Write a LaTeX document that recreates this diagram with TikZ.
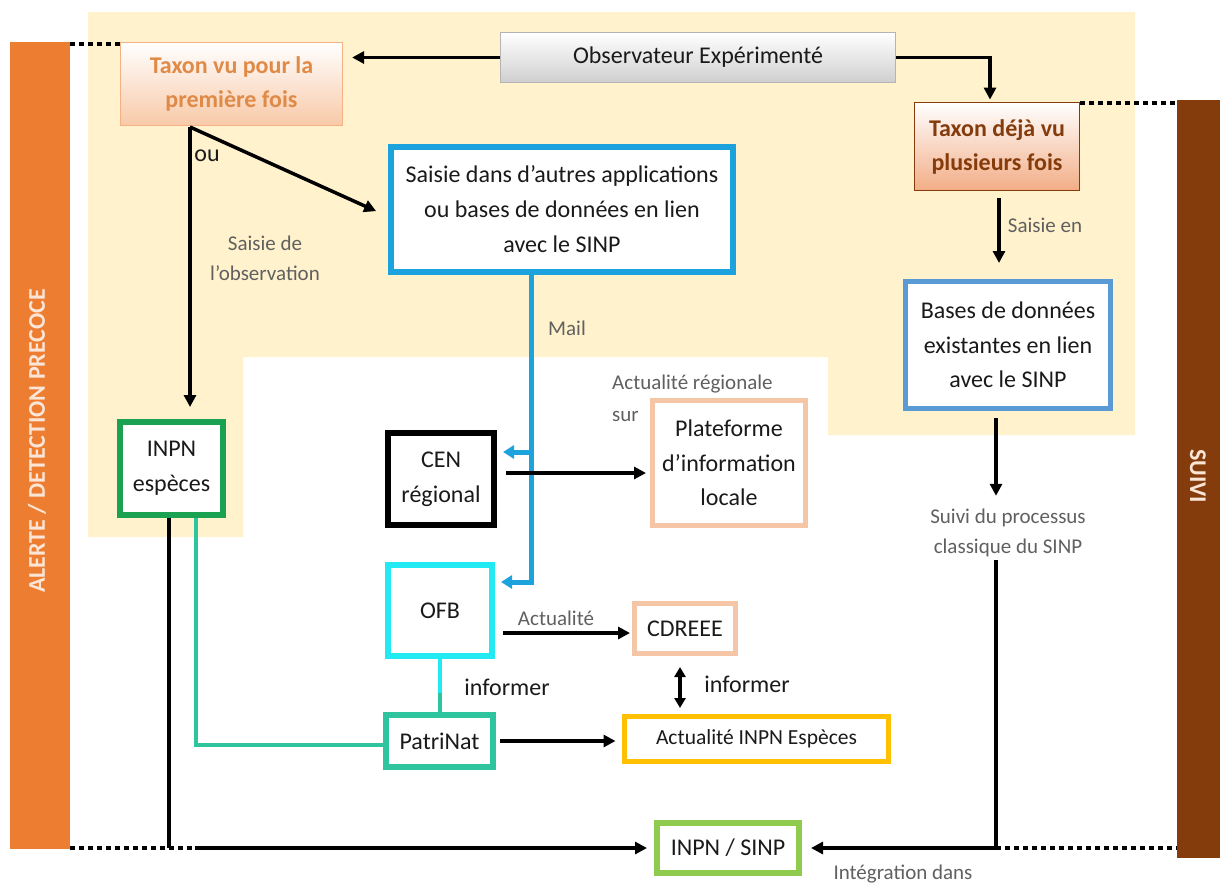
\documentclass[tikz,border=0pt]{standalone}
\usepackage{fontspec}
\setmainfont{Carlito}
\usetikzlibrary{arrows.meta}
\definecolor{beige}{HTML}{FFF2CC}
\definecolor{orangebar}{HTML}{ED7D31}
\definecolor{brownbar}{HTML}{843C0C}
\definecolor{bartxt}{HTML}{FBE5D6}
\definecolor{tvutxt}{HTML}{E08A47}
\definecolor{tvuborder}{HTML}{F4B183}
\definecolor{tvubottom}{HTML}{F8C9A8}
\definecolor{tdvbottom}{HTML}{F2AD86}
\definecolor{obsborder}{HTML}{B4B4B4}
\definecolor{obsbottom}{HTML}{CFCFCF}
\definecolor{saisieblue}{HTML}{1CA3DE}
\definecolor{basesblue}{HTML}{5B9BD5}
\definecolor{inpngreen}{HTML}{1AA152}
\definecolor{peach}{HTML}{F5C6A5}
\definecolor{ofbcyan}{HTML}{22EAF2}
\definecolor{patriteal}{HTML}{2EC49E}
\definecolor{gold}{HTML}{FFC000}
\definecolor{lightgreen}{HTML}{8FCB4F}
\definecolor{graytxt}{HTML}{606060}
\definecolor{maintxt}{HTML}{1A1A1A}
\begin{document}
\begin{tikzpicture}[x=1pt,y=-1pt,
  box/.style={draw, line width=5.5pt, fill=white, inner sep=0pt, align=center,
    text=maintxt, font=\fontsize{24}{35}\selectfont},
  lbl/.style={inner sep=0pt, align=center, text=graytxt, font=\fontsize{21}{30}\selectfont},
  blk/.style={inner sep=0pt, text=maintxt, font=\fontsize{24}{30}\selectfont},
  arr/.style={line width=3.5pt, -{Triangle[length=12pt,width=12pt]}},
  plain/.style={line width=3.5pt},
  dots/.style={line width=4pt, dash pattern=on 5pt off 4pt},
  blueline/.style={line width=5pt, draw=saisieblue},
  bluearr/.style={line width=5pt, draw=saisieblue, -{Triangle[length=11pt,width=13pt]}},
  tealline/.style={line width=3.5pt, draw=patriteal},
]
\useasboundingbox (0,0) rectangle (1220,884);
\fill[white] (0,0) rectangle (1220,884);
% beige zone
\fill[beige] (88,12) -- (1135,12) -- (1135,435) -- (828,435) -- (828,357)
  -- (243,357) -- (243,537) -- (88,537) -- cycle;

% side bars
\node[fill=orangebar, inner sep=0pt, minimum width=60pt, minimum height=807pt] (alert) at (40,445.5) {};
\node[rotate=90, inner sep=0pt, text=bartxt, font=\fontsize{24}{30}\selectfont\bfseries] (alerttxt) at (37,441) {ALERTE / DETECTION PRECOCE};
\node[fill=brownbar, inner sep=0pt, minimum width=43pt, minimum height=758pt] (sbar) at (1198.5,479) {};
\node[rotate=-90, inner sep=0pt, text=bartxt, font=\fontsize{24}{30}\selectfont\bfseries] (sbartxt) at (1198,476) {SUIVI};

% nodes
\node[draw=obsborder, line width=1.2pt, top color=white, bottom color=obsbottom,
  minimum width=395pt, minimum height=50pt, inner sep=0pt, text=maintxt,
  font=\fontsize{24}{35}\selectfont] (obs) at (698,57.5) {Observateur Expérimenté};
\node[draw=tvuborder, line width=1.2pt, top color=white, bottom color=tvubottom,
  minimum width=222pt, minimum height=83pt, inner sep=0pt, align=center, text=tvutxt,
  font=\fontsize{24}{34}\selectfont\bfseries] (tvu) at (231.5,84) {Taxon vu pour la\\première fois};
\node[draw=brownbar, line width=1.8pt, top color=white, bottom color=tdvbottom,
  minimum width=165pt, minimum height=88pt, inner sep=0pt, align=center, text=brownbar,
  font=\fontsize{24}{34}\selectfont\bfseries] (tdv) at (997,146.5) {Taxon déjà vu\\plusieurs fois};
\node[box, draw=saisieblue, line width=6pt, minimum width=342pt, minimum height=125pt] (saisie) at (562,209.5)
  {Saisie dans d’autres applications\\ou bases de données en lien\\avec le SINP};
\node[box, draw=basesblue, line width=5pt, minimum width=205pt, minimum height=127pt, font=\fontsize{24}{34.5}\selectfont] (bases) at (1008,345)
  {Bases de données\\existantes en lien\\avec le SINP};
\node[box, draw=inpngreen, line width=6pt, minimum width=103pt, minimum height=93pt] (inpne) at (171.5,468.5) {INPN\\espèces};
\node[box, draw=black, line width=6pt, minimum width=106pt, minimum height=92pt] (cen) at (441,479) {CEN\\régional};
\node[box, draw=peach, line width=5pt, minimum width=153pt, minimum height=125pt, font=\fontsize{24}{34.5}\selectfont] (plat) at (729,463)
  {Plateforme\\d’information\\locale};
\node[box, draw=ofbcyan, line width=6pt, minimum width=104pt, minimum height=91pt] (ofb) at (440,610.5) {OFB};
\node[box, draw=peach, line width=5pt, minimum width=101pt, minimum height=50pt] (cdreee) at (685,628.5) {CDREEE};
\node[box, draw=gold, line width=5pt, minimum width=264pt, minimum height=45pt, font=\fontsize{21.5}{30}\selectfont] (actu) at (756.5,739) {Actualité INPN Espèces};
\node[box, draw=patriteal, line width=6pt, minimum width=107pt, minimum height=52pt] (patri) at (439.5,741) {PatriNat};
\node[box, draw=lightgreen, line width=6pt, minimum width=142pt, minimum height=50pt] (sinp) at (728,848) {INPN / SINP};

% labels
\node[blk] (ou) at (207,156) {ou};
\node[lbl] (saisieobs) at (265,258) {Saisie de\\l’observation};
\node[lbl] (mail) at (567,328) {Mail};
\node[lbl, align=left, anchor=west, font=\fontsize{21}{32}\selectfont] (actreg) at (612,398) {Actualité régionale\\sur};
\node[lbl] (actualite) at (556,618) {Actualité};
\node[blk] (inf1) at (507,687) {informer};
\node[blk] (inf2) at (747,684) {informer};
\node[lbl] (saisieen) at (1045,225) {Saisie en};
\node[lbl] (suivi) at (1008,533) {Suivi du processus\\classique du SINP};
\node[lbl] (integ) at (903,874) {Intégration dans};

% helper coordinates
\coordinate (mailtop) at ([xshift=-31pt]saisie.south);
\coordinate (cenin) at ([yshift=27pt]cen.east);
\coordinate (ofbin) at ([yshift=28.5pt]ofb.east);
\coordinate (ofbbot) at ([yshift=-34pt]ofb.south);
\coordinate (split) at (190,127);
\coordinate (bl) at (195,848);

% dotted links to bars
\draw[dots] ([yshift=-2pt]tvu.north west -| alert.east) -- ([yshift=-2pt]tvu.north west);
\draw[dots] ([yshift=-1pt]tdv.north east) -- ([yshift=-1pt]tdv.north east -| sbar.west);

% top arrows
\draw[arr, shorten >=9pt] (obs.west) -- (obs.west -| tvu.east);
\draw[arr, shorten >=2pt] (obs.east) -| ([xshift=-7pt]tdv.north);
\draw[arr, shorten <=7pt, shorten >=16pt] ([xshift=2pt]tdv.south) -- ([xshift=2pt]tdv.south |- bases.north);

% taxon vu splits
\draw[arr, shorten >=12pt] (split) -- (split |- inpne.north);
\draw[arr, shorten >=13pt] (split) -- ([yshift=-7pt]saisie.west);

% blue mail line
\draw[bluearr, shorten >=6pt] (mailtop) |- (ofbin);
\draw[bluearr, shorten >=6pt] (cenin -| mailtop) -- (cenin);

% CEN -> plateforme
\draw[arr, shorten <=9pt, shorten >=4pt] ([yshift=6pt]cen.east) -- ([yshift=6pt]cen.east -| plat.west);

% OFB -> CDREEE
\draw[arr, shorten <=8pt, shorten >=2pt] ([yshift=-22.5pt]ofb.east) -- ([yshift=-22.5pt]ofb.east -| cdreee.west);
% CDREEE <-> actu
\draw[line width=3.5pt, {Triangle[length=10pt,width=11pt]}-{Triangle[length=10pt,width=11pt]}, shorten <=11pt, shorten >=6pt]
  ([xshift=-5pt]cdreee.south) -- ([xshift=-5pt]cdreee.south |- actu.north);

% OFB - PatriNat
\draw[line width=3.5pt, draw=ofbcyan] (ofb.south) -- (ofbbot);
\draw[tealline] (ofbbot) -- (ofbbot |- patri.north);

% PatriNat -> actu
\draw[arr, shorten <=4pt, shorten >=6.5pt] (patri.east) -- (patri.east -| actu.west);

% INPN especes links
\draw[tealline] ([xshift=24.5pt]inpne.south) |- ([yshift=-4pt]patri.west);
\draw[plain] ([xshift=-2.5pt]inpne.south) -- ([xshift=-2.5pt]inpne.south |- sinp.west);
\draw[dots] (alert.east |- sinp.west) -- (bl);
\draw[arr, shorten >=7pt] (bl) -- (sinp.west);

% right side
\draw[arr, shorten <=7pt, shorten >=13pt] ([xshift=-12pt]bases.south) -- ([xshift=-12pt]bases.south |- suivi.north);
\draw[arr, shorten <=3pt, shorten >=9pt] ([xshift=-12pt]suivi.south) |- (sinp.east);
\draw[dots] ([xshift=-12pt]suivi.south |- sinp.east) -- (sinp.east -| sbar.west);
\end{tikzpicture}
\end{document}
